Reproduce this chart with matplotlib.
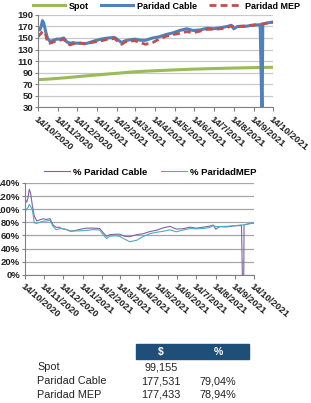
import matplotlib
matplotlib.use("Agg")
import matplotlib.pyplot as plt
import pandas as pd

plt.rcParams["font.family"] = ["Liberation Sans", "DejaVu Sans"]

# data (every few days)
dates = ["2020-10-14", "2020-10-17", "2020-10-19", "2020-10-21", "2020-10-23", "2020-10-26", "2020-10-29",
         "2020-11-02", "2020-11-07", "2020-11-12", "2020-11-17", "2020-11-23", "2020-11-28", "2020-12-03",
         "2020-12-08", "2020-12-11", "2020-12-19", "2020-12-25", "2020-12-30", "2021-01-10", "2021-01-20",
         "2021-01-31", "2021-02-10", "2021-02-16", "2021-02-21", "2021-02-26", "2021-03-06", "2021-03-14",
         "2021-03-22", "2021-03-30", "2021-04-10", "2021-04-20", "2021-05-01", "2021-05-12", "2021-05-22",
         "2021-06-02", "2021-06-12", "2021-06-23", "2021-07-04", "2021-07-14", "2021-07-25", "2021-08-04",
         "2021-08-10", "2021-08-14", "2021-08-20", "2021-08-31", "2021-09-11", "2021-09-24", "2021-09-27",
         "2021-09-28", "2021-10-01", "2021-10-07", "2021-10-14"]
spot = [77.6, 77.8, 78.0, 78.1, 78.3, 78.5, 78.7, 79.0, 79.4, 79.8, 80.3, 80.8, 81.3, 81.8, 82.3, 82.6,
        83.4, 84.0, 84.5, 85.6, 86.5, 87.6, 88.5, 89.0, 89.5, 90.0, 90.8, 91.4, 92.0, 92.4, 93.0, 93.5,
        94.0, 94.6, 95.0, 95.5, 96.0, 96.3, 96.7, 97.0, 97.3, 97.6, 97.8, 97.9, 98.0, 98.3, 98.5, 98.8,
        98.9, 98.9, 99.0, 99.1, 99.1552]
cable = [167, 164, 170, 180, 176, 161, 149, 144, 146, 148, 148, 150, 143, 141, 142, 141, 141, 140, 141,
         145, 148, 150, 151, 146, 142, 145, 147, 148, 146, 146, 150, 152, 156, 159, 163, 166, 163, 164,
         167, 166, 168, 170, 172, 166, 170, 170, 172, 173, 0, 174, 175, 176.5, 177.531]
mep = [152, 156, 158, 162, 160, 156, 141, 141, 143, 145, 146, 148, 141, 138, 140, 141, 141, 140, 141,
       143, 145, 148, 149, 143, 139, 143, 145, 145, 142, 139, 142, 148, 153, 156, 158, 161, 159, 162,
       165, 165, 166, 168, 171, 170, 170, 171, 172, 174, 174, 174.5, 175, 176.5, 177.433]

df = pd.DataFrame({"date": pd.to_datetime(dates), "spot": spot, "cable": cable, "mep": mep})
df["pct_cable"] = (df["cable"] / df["spot"] - 1) * 100
df["pct_mep"] = (df["mep"] / df["spot"] - 1) * 100

ticks = pd.date_range("2020-10-01", "2021-10-01", freq="MS") + pd.Timedelta(days=13)
tick_labels = [f"{d.day}/{d.month}/{d.year}" for d in ticks]
tick_font = dict(fontsize=6.8, fontweight="bold", color="#222222")


def style_axis(ax, grid_color):
    ax.set_xlim(ticks[0], ticks[-1])
    ax.set_xticks(ticks)
    ax.set_xticklabels(tick_labels, rotation=-40, ha="left", va="top", rotation_mode="anchor", **tick_font)
    ax.tick_params(axis="x", length=3, color="#808080", pad=2)
    ax.tick_params(axis="y", length=2, color="#808080", pad=1.5)
    for lab in ax.get_yticklabels():
        lab.set(**tick_font)
    ax.grid(axis="y", color=grid_color, lw=0.9)
    ax.set_axisbelow(True)
    for s in ["top", "right"]:
        ax.spines[s].set_visible(False)
    for s in ["left", "bottom"]:
        ax.spines[s].set_color("#808080")
        ax.spines[s].set_linewidth(0.8)


fig = plt.figure(figsize=(3.11, 4.03), dpi=100)

ax1 = fig.add_axes([0.122, 0.734, 0.756, 0.229])
ax1.plot(df["date"], df["spot"], color="#9BBB59", lw=2.2, label="Spot")
ax1.plot(df["date"], df["cable"], color="#4F81BD", lw=2.2, label="Paridad Cable")
ax1.plot(df["date"], df["mep"], color="#C0504D", lw=2.0, ls=(0, (2.5, 1.5)), label="Paridad MEP")
ax1.set_ylim(30, 190)
ax1.set_yticks(range(30, 191, 20))
style_axis(ax1, "#C8C8C8")
fig.legend(*ax1.get_legend_handles_labels(), loc="center", bbox_to_anchor=(0.535, 0.985), ncol=3,
           frameon=False, prop=dict(size=6.5, weight="bold"), handlelength=3.6, columnspacing=1.3,
           handletextpad=0.4)

ax2 = fig.add_axes([0.080, 0.318, 0.737, 0.228])
ax2.plot(df["date"], df["pct_cable"], color="#8064A2", lw=0.8, label="% Paridad Cable")
ax2.plot(df["date"], df["pct_mep"], color="#4BACC6", lw=0.8, label="% ParidadMEP")
ax2.set_ylim(0, 140)
ax2.set_yticks(range(0, 141, 20))
ax2.set_yticklabels([f"{v}%" for v in range(0, 141, 20)])
style_axis(ax2, "#A6A6A6")
fig.legend(*ax2.get_legend_handles_labels(), loc="center", bbox_to_anchor=(0.483, 0.573), ncol=2,
           frameon=False, prop=dict(size=6.8, weight="bold"), handlelength=2.7, columnspacing=1.5,
           handletextpad=0.3)

# summary table
last = df.iloc[-1]
rows = [("Spot", last["spot"], None),
        ("Paridad Cable", last["cable"], last["pct_cable"]),
        ("Paridad MEP", last["mep"], last["pct_mep"])]
fig.patches.append(plt.Rectangle((0.437, 0.109), 0.364, 0.037, transform=fig.transFigure,
                                 color="#1F4E79", zorder=0))
fig.text(0.518, 0.127, "$", color="white", fontsize=7.5, fontweight="bold", ha="center", va="center")
fig.text(0.701, 0.127, "%", color="white", fontsize=7.5, fontweight="bold", ha="center", va="center")
for i, (name, val, pct) in enumerate(rows):
    y = 0.089 - i * 0.0345
    fig.text(0.119, y, name, fontsize=7.8, color="#222222", va="center")
    fig.text(0.518, y, f"{val:.3f}".replace(".", ","), fontsize=7.8, color="#222222", ha="center", va="center")
    if pct is not None:
        fig.text(0.701, y, f"{pct:.2f}%".replace(".", ","), fontsize=7.8, color="#222222", ha="center", va="center")

fig.savefig("out.png", dpi=100)
